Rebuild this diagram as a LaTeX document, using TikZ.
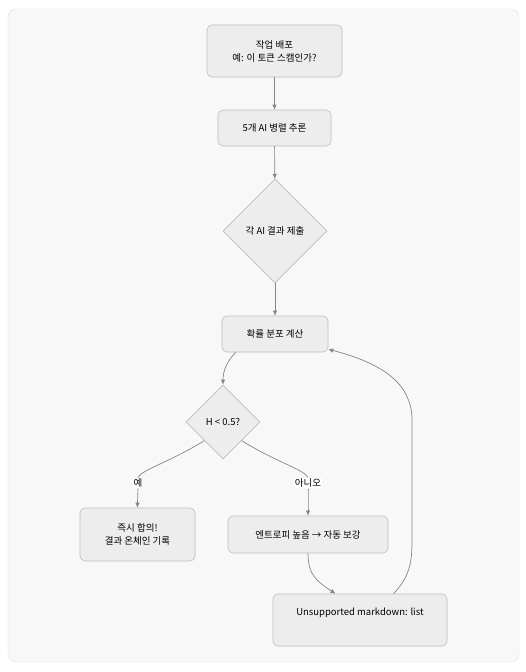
\documentclass[tikz,border=0pt]{standalone}
\usepackage{fontspec}
\setmainfont{Noto Sans CJK KR}
\usetikzlibrary{arrows.meta,shapes.geometric}

\definecolor{panel}{HTML}{F8F8F8}
\definecolor{panelline}{HTML}{E0E0E0}
\definecolor{boxfill}{HTML}{EDEDED}
\definecolor{boxline}{HTML}{BDBDBD}
\definecolor{wire}{HTML}{858585}

\begin{document}
\begin{tikzpicture}[x=1pt,y=-1pt,
  font=\fontsize{9.5}{13}\selectfont,
  stepbox/.style={draw=boxline,line width=0.6pt,fill=boxfill,rounded corners=5pt,align=center,inner sep=0pt},
  choice/.style={draw=boxline,line width=0.6pt,fill=boxfill,shape=diamond,aspect=1,inner sep=0pt},
  flow/.style={draw=wire,line width=0.7pt,-{Latex[length=5pt,width=4.5pt]}},
  link/.style={draw=wire,line width=0.7pt},
  tag/.style={fill=white,inner sep=1pt}]
  \useasboundingbox (0,0) rectangle (525,672);
  % panel
  \draw[panelline,fill=panel,rounded corners=8pt] (8,9) rectangle (519,662);
  % nodes
  \node[stepbox,minimum width=135,minimum height=52] (job) at (274.5,51) {작업 배포\\예: 이 토큰 스캠인가?};
  \node[stepbox,minimum width=113,minimum height=36] (infer) at (274.5,128) {5개 AI 병렬 추론};
  \node[choice,minimum width=104,minimum height=104] (submit) at (275,231) {각 AI 결과 제출};
  \node[stepbox,minimum width=106,minimum height=36] (prob) at (275,334) {확률 분포 계산};
  \node[choice,minimum width=74,minimum height=74] (test) at (223,422) {H < 0.5?};
  \node[stepbox,minimum width=115,minimum height=53] (agree) at (137.5,534.5) {즉시 합의!\\결과 온체인 기록};
  \node[stepbox,minimum width=160,minimum height=37] (boost) at (308,534.5) {엔트로피 높음 → 자동 보강};
  \node[stepbox,minimum width=174,minimum height=52] (list) at (360,620) {Unsupported markdown: list\\ \strut};
  % edge labels
  \node[tag] (yes) at (138,483) {예};
  \node[tag] (no) at (308,483) {아니오};
  % connectors
  \draw[flow] (job) -- (infer);
  \draw[flow] (infer) -- (submit);
  \draw[flow] (submit) -- (prob);
  \draw[flow] (prob.205) .. controls (226,362) and (223,372) .. (test.north);
  \draw[link] (test.south west) .. controls (170,462) and (141,470) .. (yes.north);
  \draw[flow] (yes.south) .. controls (137.5,496) .. (agree.north);
  \draw[link] (test.south east) .. controls (276,462) and (305,470) .. (no.north);
  \draw[flow] (no.south) .. controls (308,504) .. (boost.north);
  \draw[flow] (boost.south) .. controls (308,576) and (318,582) .. (list.133);
  \draw[flow] (list.38) .. controls (410,576) and (412,562) .. (412,540)
    -- (412,420) .. controls (412,385) and (385,364) .. (prob.-16);
\end{tikzpicture}
\end{document}
